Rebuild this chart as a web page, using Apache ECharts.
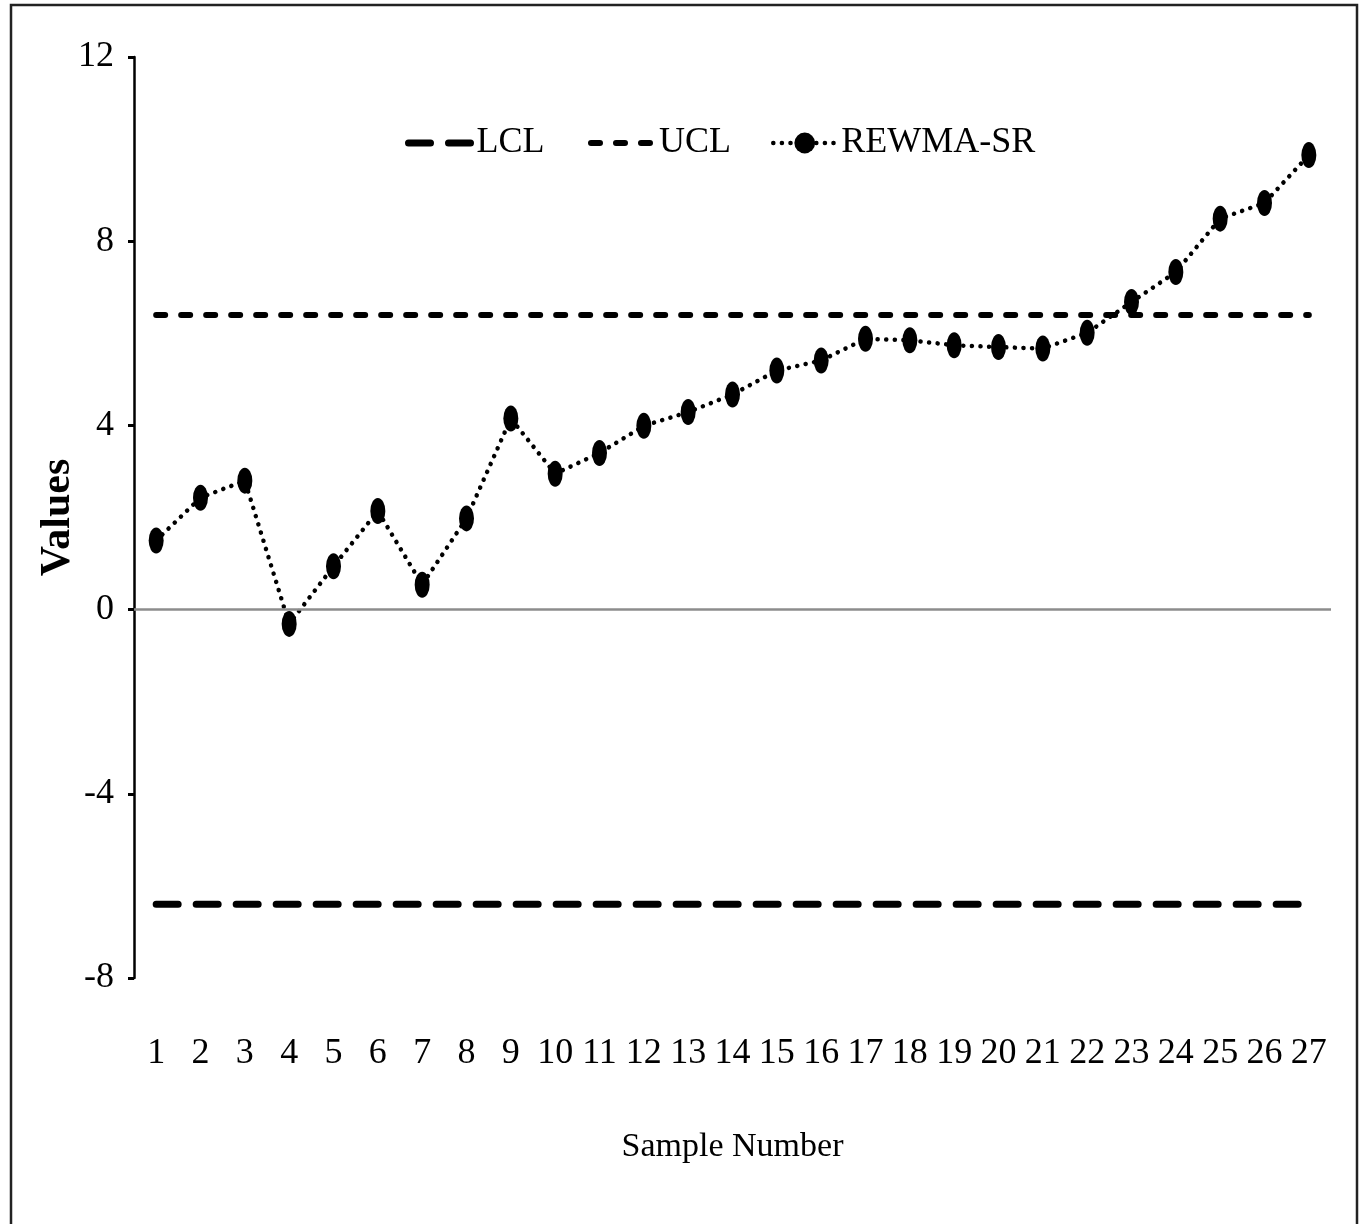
<!DOCTYPE html>
<html>
<head>
<meta charset="utf-8">
<script src="https://cdn.jsdelivr.net/npm/echarts@6/dist/echarts.min.js"></script>
<style>
  html, body { margin: 0; padding: 0; background: #fff; }
  #chart { width: 1362px; height: 1224px; }
</style>
</head>
<body>
<div id="chart"></div>
<script>
const categories = ['1','2','3','4','5','6','7','8','9','10','11','12','13','14','15','16','17','18','19','20','21','22','23','24','25','26','27'];
const rewmaSR = [1.50, 2.43, 2.80, -0.31, 0.94, 2.14, 0.54, 1.98, 4.15, 2.95, 3.40, 3.99, 4.29, 4.67, 5.19, 5.41, 5.88, 5.85, 5.74, 5.70, 5.67, 6.01, 6.68, 7.33, 8.49, 8.83, 9.87];
const ucl = [6.4, 6.4, 6.4, 6.4, 6.4, 6.4, 6.4, 6.4, 6.4, 6.4, 6.4, 6.4, 6.4, 6.4, 6.4, 6.4, 6.4, 6.4, 6.4, 6.4, 6.4, 6.4, 6.4, 6.4, 6.4, 6.4, 6.4];
const lcl = [-6.4, -6.4, -6.4, -6.4, -6.4, -6.4, -6.4, -6.4, -6.4, -6.4, -6.4, -6.4, -6.4, -6.4, -6.4, -6.4, -6.4, -6.4, -6.4, -6.4, -6.4, -6.4, -6.4, -6.4, -6.4, -6.4, -6.4];
const yTicks = { min: -8, max: 12, interval: 4 };

const FONT = "'Liberation Serif', 'Times New Roman', serif";
const chart = echarts.init(document.getElementById('chart'));

const lclStyle = { color: '#000', width: 7, type: [22, 18], cap: 'round' };
const uclStyle = { color: '#000', width: 6, type: [9, 16], cap: 'round' };
const rewmaStyle = { color: '#000', width: 4.5, type: [0.1, 8.5], cap: 'round' };

const legendBase = {
  top: 120,
  itemWidth: 63,
  itemHeight: 28,
  itemGap: 5,
  textStyle: { fontFamily: FONT, fontSize: 36, color: '#000' },
  selectedMode: false
};

chart.setOption({
  animation: false,
  backgroundColor: '#fff',
  graphic: [{
    type: 'rect',
    shape: { x: 11, y: 5, width: 1346, height: 1250 },
    style: { fill: 'none', stroke: '#222', lineWidth: 2.5 },
    silent: true
  }],
  legend: [
    Object.assign({}, legendBase, { left: 400, data: ['LCL'], lineStyle: lclStyle, itemStyle: { opacity: 0 } }),
    Object.assign({}, legendBase, { left: 583, data: ['UCL'], lineStyle: uclStyle, itemStyle: { opacity: 0 } }),
    Object.assign({}, legendBase, { left: 766, data: ['REWMA-SR'], lineStyle: rewmaStyle, itemHeight: 26 })
  ],
  grid: { left: 134, right: 31, top: 57, bottom: 246, containLabel: false },
  xAxis: {
    type: 'category',
    data: categories,
    boundaryGap: true,
    axisLine: { show: false },
    axisTick: { show: false },
    splitLine: { show: false },
    axisLabel: { fontFamily: FONT, fontSize: 36, color: '#000', margin: 58, interval: 0 },
    name: 'Sample Number',
    nameLocation: 'middle',
    nameGap: 152,
    nameTextStyle: { fontFamily: FONT, fontSize: 34, color: '#000' }
  },
  yAxis: {
    type: 'value',
    min: yTicks.min,
    max: yTicks.max,
    interval: yTicks.interval,
    axisLine: { show: true, lineStyle: { color: '#000', width: 2.5 } },
    axisTick: { show: true, length: 6, lineStyle: { color: '#000', width: 3 } },
    splitLine: { show: false },
    axisLabel: { fontFamily: FONT, fontSize: 36, color: '#000', margin: 20 },
    name: 'Values',
    nameLocation: 'middle',
    nameRotate: 90,
    nameGap: 55,
    nameMoveOverlap: false,
    nameTextStyle: { fontFamily: FONT, fontSize: 42, fontWeight: 'bold', color: '#000' }
  },
  series: [
    {
      name: 'LCL',
      type: 'line',
      data: lcl,
      symbol: 'none',
      z: 2,
      lineStyle: lclStyle,
      itemStyle: { color: '#000' },
      markLine: {
        silent: true,
        symbol: 'none',
        label: { show: false },
        lineStyle: { color: '#8c8c8c', width: 2.5, type: 'solid' },
        data: [{ yAxis: 0 }]
      }
    },
    {
      name: 'UCL',
      type: 'line',
      data: ucl,
      symbol: 'none',
      z: 2,
      lineStyle: uclStyle,
      itemStyle: { color: '#000' }
    },
    {
      name: 'REWMA-SR',
      type: 'line',
      data: rewmaSR,
      symbol: 'circle',
      symbolSize: [15, 26],
      z: 3,
      lineStyle: rewmaStyle,
      itemStyle: { color: '#000' }
    }
  ]
});
</script>
</body>
</html>
